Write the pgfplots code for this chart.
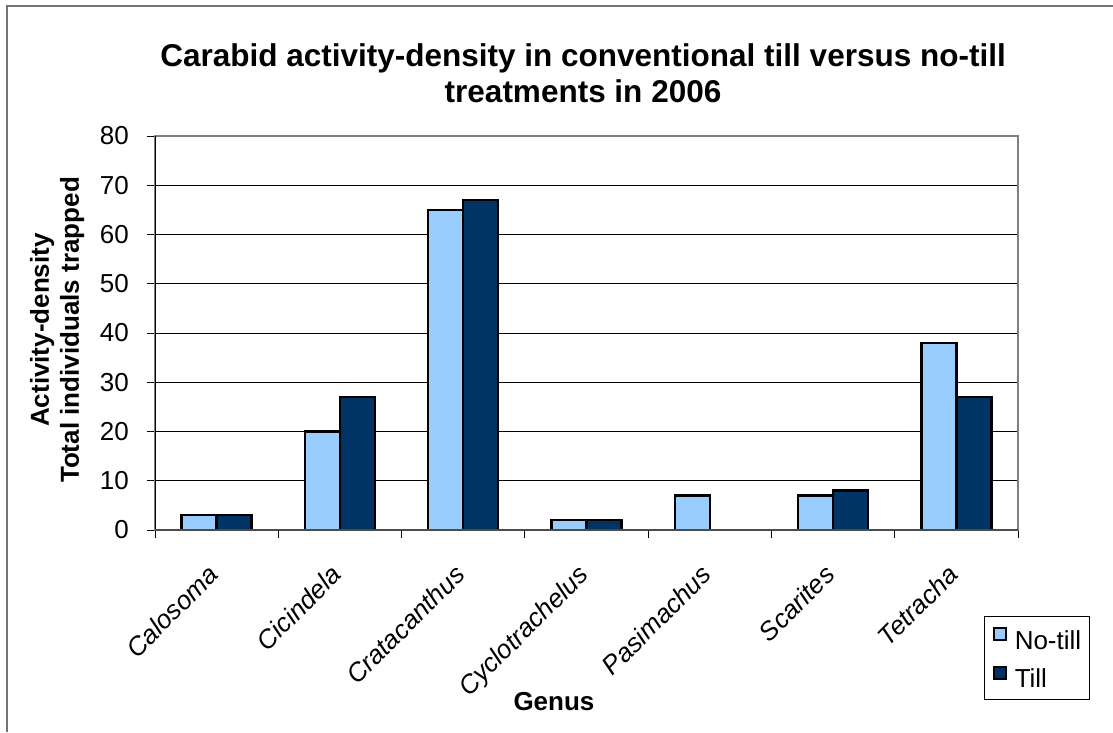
\documentclass[border=0pt]{standalone}
\usepackage{fontspec}
\setmainfont{Liberation Sans}
\usepackage{pgfplots}
\pgfplotsset{compat=1.18}
\definecolor{notill}{RGB}{153,204,255}
\definecolor{till}{RGB}{0,51,102}
\newcommand{\lbl}{\fontsize{26}{30}\selectfont}
\begin{document}
\begin{tikzpicture}[x=1pt,y=1pt]
\useasboundingbox (0,0) rectangle (1113,732);
\draw[black!55, line width=2pt] (7,0) -- (7,726) -- (1113,726);
\begin{axis}[
  at={(155pt,202pt)}, anchor=south west,
  scale only axis, width=863pt, height=394pt,
  xmin=-0.5, xmax=6.5, ymin=0, ymax=80,
  enlargelimits=false,
  ybar=0pt, bar width=35pt,
  xtick={0,1,2,3,4,5,6},
  xticklabels={Calosoma,Cicindela,Cratacanthus,Cyclotrachelus,Pasimachus,Scarites,Tetracha},
  minor xtick={-0.5,0.5,1.5,2.5,3.5,4.5,5.5,6.5},
  ytick={0,10,20,30,40,50,60,70,80},
  xtick pos=bottom, ytick pos=left,
  tick align=outside,
  major tick length=8pt, minor tick length=8pt,
  major x tick style={draw=none},
  tick style={black, line width=1pt},
  minor x tick style={black, line width=1pt},
  ymajorgrids, grid style={black, line width=1pt},
  axis line style={black!50, line width=2pt},
  /pgf/number format/assume math mode=true,
  ticklabel style={font=\lbl},
  yticklabel style={inner sep=0pt, xshift=-18pt},
  xticklabel style={rotate=45, anchor=north east, inner sep=0pt, font=\lbl\itshape, xshift=-24.75pt, yshift=-10.6pt},
  title={\textbf{Carabid activity-density in conventional till versus no-till}\\\textbf{treatments in 2006}},
  title style={font=\fontsize{31.5}{36}\selectfont\bfseries, align=center, at={(axis description cs:0.4960,1)}, anchor=south, inner sep=0pt, yshift=27pt},
  ylabel={Activity-density\\Total individuals trapped},
  ylabel style={font=\lbl\bfseries, align=center, at={(axis description cs:-0.0817,0.5076)}, anchor=south, inner sep=0pt},
  xlabel={Genus},
  xlabel style={font=\lbl\bfseries, at={(axis description cs:0.4623,-0.4569)}, anchor=base, inner sep=0pt},
  legend style={at={(axis description cs:0.9606,-0.218)}, anchor=north west, draw=black, line width=1pt, font=\lbl, inner xsep=8pt, inner ysep=11pt, row sep=15pt, nodes={inner sep=0pt}, cells={anchor=west}},
  legend image code/.code={\draw[#1, line width=2pt, draw=black] (0pt,0pt) rectangle (12pt,12pt); \path (20pt,0pt);},
]
\addplot[fill=notill, draw=black, line width=2.5pt, bar shift=-17.5pt] coordinates {(0,3) (1,20) (2,65) (3,2) (4,7) (5,7) (6,38)};
\addplot[fill=till, draw=black, line width=2.5pt, bar shift=17.5pt] coordinates {(0,3) (1,27) (2,67) (3,2) (4,0) (5,8) (6,27)};
\legend{No-till,Till}
\draw[black, line width=1.5pt] (rel axis cs:0,0) -- (rel axis cs:0,1);
\draw[black!70, line width=1.5pt] (rel axis cs:0,0) -- (rel axis cs:1,0);
\end{axis}
\end{tikzpicture}
\end{document}
